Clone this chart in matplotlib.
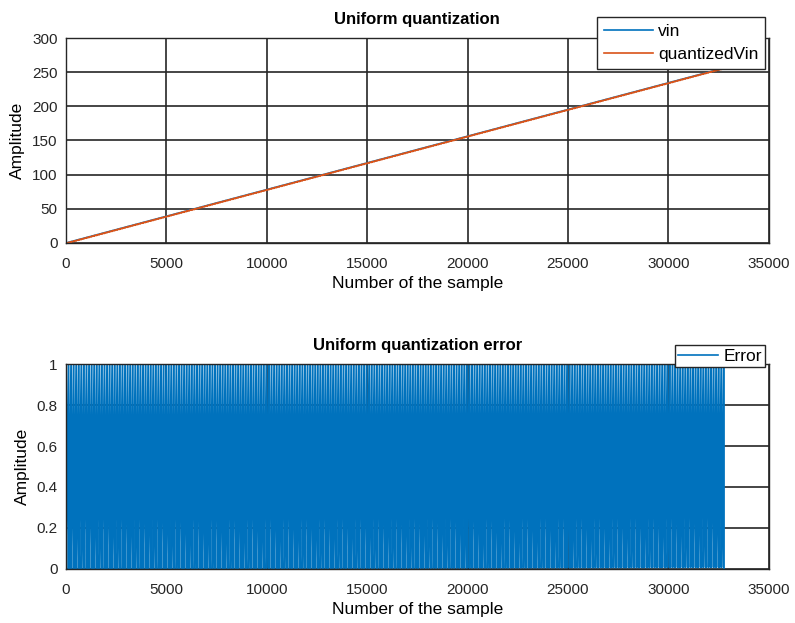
import numpy as np
import matplotlib
matplotlib.use("Agg")
import matplotlib.pyplot as plt

# ramp signal: 32768 samples spanning 0..256 (8-bit uniform quantizer, step 1)
n_samples = 32768
v_start = 0.0
v_end = 256.0
q_step = 1.0

x_ticks = [0, 5000, 10000, 15000, 20000, 25000, 30000, 35000]
y_ticks_top = [0, 50, 100, 150, 200, 250, 300]
y_ticks_bot = [0, 0.2, 0.4, 0.6, 0.8, 1]

n = np.arange(n_samples)
vin = np.linspace(v_start, v_end, n_samples)
quantizedVin = np.floor(vin / q_step) * q_step
err = vin - quantizedVin

plt.rcParams['font.family'] = ['Liberation Sans', 'DejaVu Sans']
plt.rcParams['font.size'] = 11

blue = '#0072BD'
orange = '#D95319'
gridc = '#262626'

fig = plt.figure(figsize=(7.95, 6.23), dpi=100)
ax1 = fig.add_axes([0.083, 0.610, 0.884, 0.329])
ax2 = fig.add_axes([0.083, 0.0867, 0.884, 0.329])


def style(ax, yt, ylim):
    ax.set_xlim(0, 35000)
    ax.set_ylim(*ylim)
    ax.set_xticks(x_ticks)
    ax.set_yticks(yt)
    ax.set_yticklabels([('%g' % v) for v in yt])
    ax.grid(True, color=gridc, linewidth=1.2, alpha=1)
    ax.set_axisbelow(True)
    for s in ax.spines.values():
        s.set_color(gridc)
        s.set_linewidth(1.0)
        s.set_zorder(5)
    ax.tick_params(axis='x', direction='in', length=0, colors='#262626', labelsize=11, pad=10)
    ax.tick_params(axis='y', direction='in', length=0, colors='#262626', labelsize=11, pad=6)
    ax.set_xlabel('Number of the sample', fontsize=12.5, labelpad=4)
    ax.set_ylabel('Amplitude', fontsize=12.5, labelpad=5)


ax1.plot(n, vin, color=blue, linewidth=1.2, label='vin')
ax1.plot(n, quantizedVin, color=orange, linewidth=1.2, label='quantizedVin')
style(ax1, y_ticks_top, (0, 300))
ax1.set_title('Uniform quantization', fontsize=12, fontweight='bold', pad=10)
leg1 = ax1.legend(loc='upper right', bbox_to_anchor=(0.995, 1.102), fancybox=False,
                  framealpha=1, edgecolor=gridc, fontsize=12.5, borderpad=0.4,
                  handlelength=2.8, handletextpad=0.3, labelspacing=0.44,
                  borderaxespad=0)
leg1.get_frame().set_linewidth(1.0)

ax2.plot(n, err, color=blue, linewidth=1.4, label='Error')
style(ax2, y_ticks_bot, (0, 1))
ax2.set_title('Uniform quantization error', fontsize=12, fontweight='bold', pad=10)
leg2 = ax2.legend(loc='upper right', bbox_to_anchor=(0.995, 1.093), fancybox=False,
                  framealpha=1, edgecolor=gridc, fontsize=12.5, borderpad=0.2,
                  handlelength=2.3, handletextpad=0.3, borderaxespad=0)
leg2.get_frame().set_linewidth(1.0)
for h in leg2.get_lines():
    h.set_linewidth(1.2)

fig.savefig('out.png', dpi=100)
